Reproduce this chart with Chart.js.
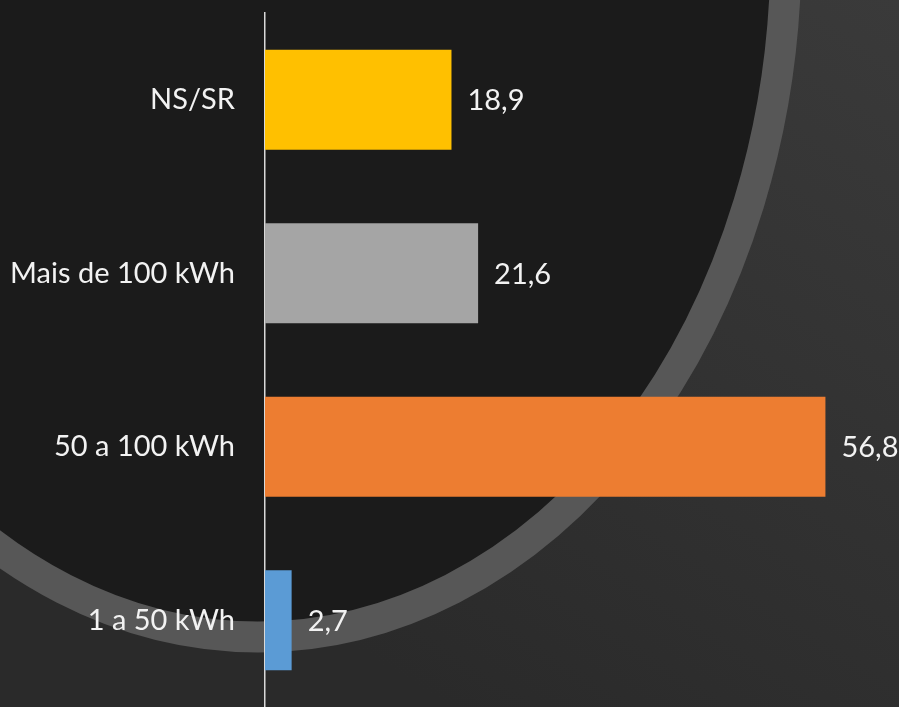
<!DOCTYPE html>
<html>
<head>
<meta charset="utf-8">
<script src="https://cdn.jsdelivr.net/npm/chart.js@4.4.1/dist/chart.umd.min.js"></script>
<style>
  html, body { margin: 0; padding: 0; background: #333; }
  #box { width: 899px; height: 707px; }
</style>
</head>
<body>
<div id="box"><canvas id="grafico"></canvas></div>
<script>
// dados
const categorias = ['NS/SR', 'Mais de 100 kWh', '50 a 100 kWh', '1 a 50 kWh']
const valores = [18.9, 21.6, 56.8, 2.7]
const cores = ['#FFC000', '#A5A5A5', '#ED7D31', '#5B9BD5']

const fonte = { family: 'Lato, "Open Sans", sans-serif', size: 29 }

// fundo escuro com o arco cinza
const fundo = {
    id: 'fundo',
    beforeDraw(chart) {
        const ctx = chart.ctx
        const w = chart.width, h = chart.height
        ctx.save()
        let g = ctx.createLinearGradient(w, 0, w * 0.5, h)
        g.addColorStop(0, '#3a3a3a')
        g.addColorStop(1, '#2a2a2a')
        ctx.fillStyle = g
        ctx.fillRect(0, 0, w, h)
        ctx.beginPath()
        ctx.ellipse(258, -50, 528, 687, 0, 0, Math.PI * 2)
        ctx.fillStyle = '#1b1b1b'
        ctx.fill()
        ctx.lineWidth = 31
        ctx.strokeStyle = '#575757'
        ctx.stroke()
        ctx.restore()
    }
}

// rótulos de valor ao fim das barras
const rotulos = {
    id: 'rotulos',
    afterDatasetsDraw(chart) {
        const ctx = chart.ctx
        ctx.save()
        ctx.font = fonte.size + 'px ' + fonte.family
        ctx.fillStyle = '#f2f2f2'
        ctx.textAlign = 'left'
        ctx.textBaseline = 'middle'
        chart.getDatasetMeta(0).data.forEach((bar, i) => {
            ctx.fillText(valores[i].toFixed(1).replace('.', ','), bar.x + 16, bar.y + 1)
        })
        ctx.restore()
    }
}

window.onload = () => {
    let contexto = document.getElementById('grafico').getContext('2d')
    new Chart(contexto, {
        type: 'bar',
        data: {
            labels: categorias,
            datasets: [{
                data: valores,
                backgroundColor: cores,
                barPercentage: 0.576,
                categoryPercentage: 1
            }]
        },
        options: {
            indexAxis: 'y',
            responsive: true,
            maintainAspectRatio: false,
            animation: false,
            layout: { padding: { top: 13, right: 42, bottom: 0, left: 0 } },
            plugins: { legend: { display: false }, tooltip: { enabled: false } },
            scales: {
                x: { display: false, min: 0, max: 60 },
                y: {
                    grid: { display: false, drawTicks: false },
                    border: { display: true, color: '#d9d9d9', width: 1.5 },
                    ticks: { color: '#f2f2f2', font: fonte, padding: 30 },
                    afterFit(scale) {
                        scale.width = 265
                        scale.paddingTop = 0
                        scale.paddingBottom = 0
                    }
                }
            }
        },
        plugins: [fundo, rotulos]
    })
}
</script>
</body>
</html>
